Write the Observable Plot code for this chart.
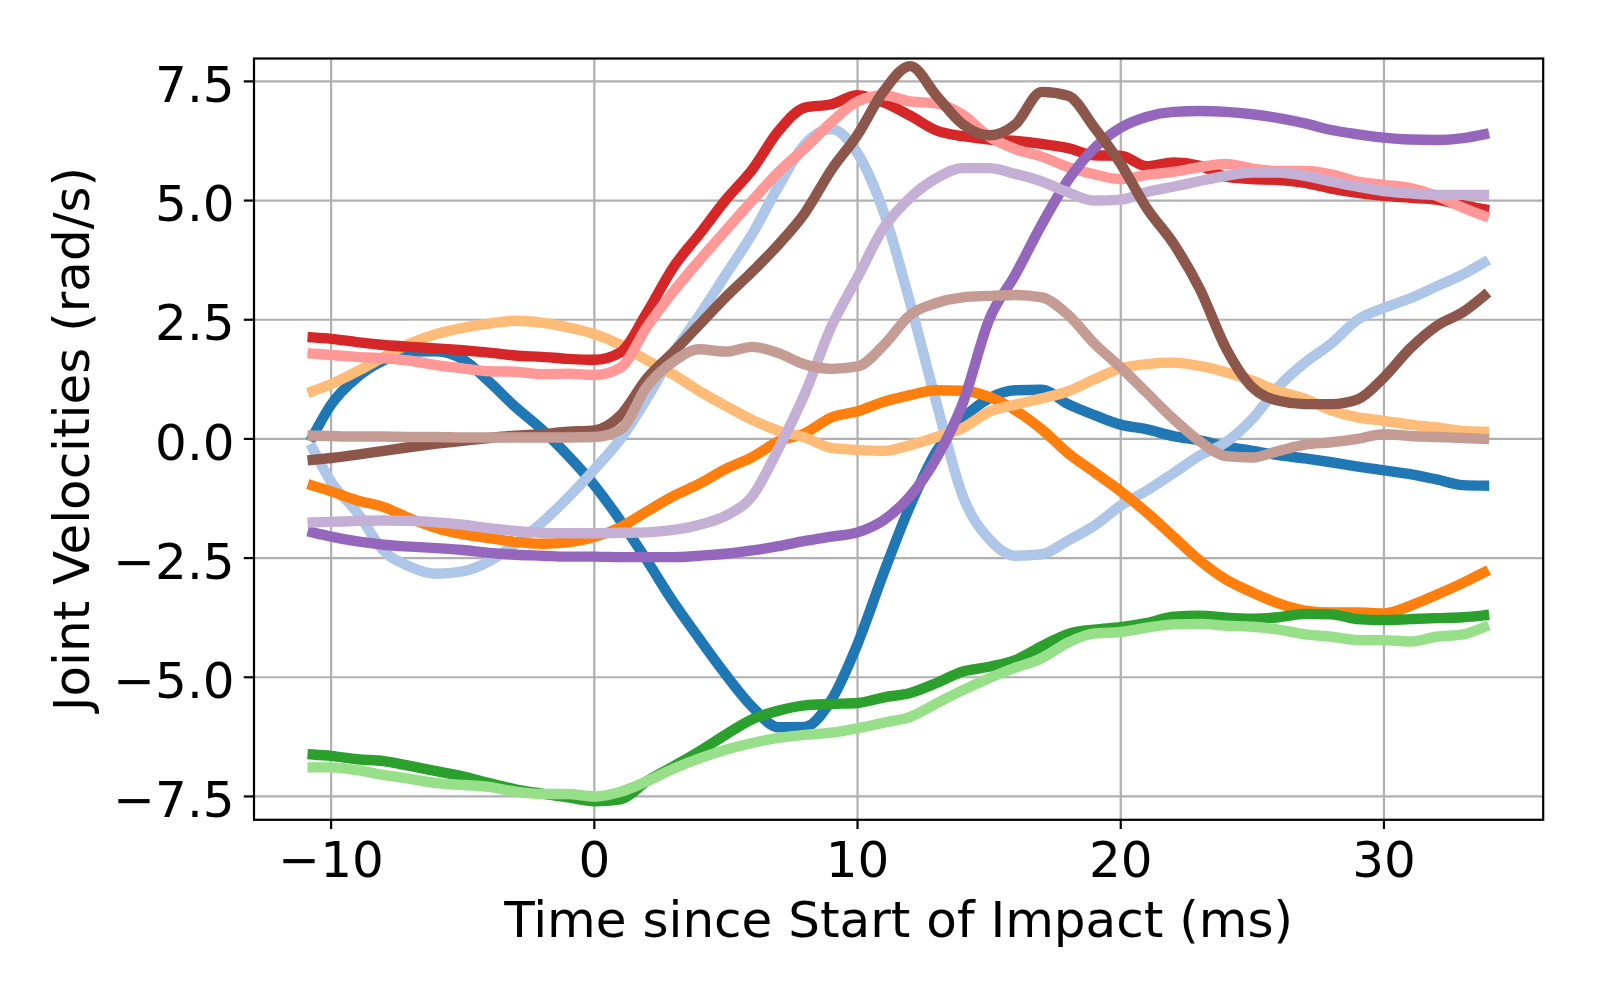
<!DOCTYPE html>
<html>
<head>
<meta charset="utf-8">
<script src="https://cdn.jsdelivr.net/npm/d3@7"></script>
<script src="https://cdn.jsdelivr.net/npm/@observablehq/plot@0.6"></script>
<style>
  html, body { margin: 0; padding: 0; background: #fff; }
  #chart svg { display: block; }
</style>
</head>
<body>
<div id="chart"></div>
<script>
// Time samples (ms since start of impact)
const times = [-10.7, -10, -9, -8, -7, -6, -5, -4, -3, -2, -1, 0, 1, 2, 3, 4, 5, 6, 7, 8, 9, 10,
  11, 12, 13, 14, 15, 16, 17, 18, 19, 20, 21, 22, 23, 24, 25, 26, 27, 28, 29, 30, 31, 32, 33, 33.8];

// Joint velocity series (rad/s), one value per time sample
const blue = [0.05, 0.72, 1.3, 1.65, 1.83, 1.84, 1.67, 1.2, 0.67, 0.2, -0.35, -0.97, -1.72, -2.55, -3.42, -4.2, -4.95, -5.62, -6.05, -6.04, -5.48, -4.3,
  -2.8, -1.4, -0.26, 0.42, 0.85, 1.02, 1.03, 0.73, 0.5, 0.3, 0.2, 0.06, -0.03, -0.16, -0.25, -0.34, -0.41, -0.49, -0.58, -0.66, -0.74, -0.85, -0.97, -0.98];
const lightBlue = [-0.2, -0.9, -1.55, -2.35, -2.68, -2.83, -2.78, -2.57, -2.2, -1.76, -1.23, -0.64, 0.0, 0.85, 1.8, 2.6, 3.45, 4.3, 5.3, 6.18, 6.5, 5.99,
  4.75, 2.85, 0.75, -1.2, -2.1, -2.45, -2.42, -2.13, -1.82, -1.4, -1.08, -0.72, -0.35, -0.07, 0.42, 1.1, 1.6, 2.0, 2.5, 2.75, 2.95, 3.2, 3.45, 3.7];
const orange = [-0.98, -1.1, -1.29, -1.43, -1.67, -1.87, -2.0, -2.08, -2.16, -2.2, -2.17, -2.06, -1.85, -1.52, -1.2, -0.94, -0.63, -0.38, -0.05, 0.12, 0.45, 0.58,
  0.78, 0.92, 1.02, 1.01, 0.88, 0.6, 0.2, -0.3, -0.7, -1.1, -1.55, -2.05, -2.55, -2.95, -3.22, -3.45, -3.6, -3.64, -3.64, -3.66, -3.5, -3.27, -3.02, -2.8];
const lightOrange = [1.0, 1.15, 1.42, 1.72, 2.0, 2.2, 2.33, 2.42, 2.48, 2.44, 2.34, 2.2, 1.97, 1.65, 1.35, 1.0, 0.69, 0.4, 0.17, 0.03, -0.19, -0.23,
  -0.25, -0.13, 0.04, 0.23, 0.57, 0.72, 0.85, 1.0, 1.25, 1.48, 1.57, 1.6, 1.53, 1.4, 1.22, 1.0, 0.84, 0.6, 0.45, 0.38, 0.3, 0.24, 0.17, 0.15];
const green = [-6.62, -6.65, -6.72, -6.76, -6.86, -6.97, -7.08, -7.22, -7.35, -7.44, -7.52, -7.6, -7.56, -7.18, -6.87, -6.55, -6.2, -5.88, -5.7, -5.59, -5.56, -5.54,
  -5.42, -5.33, -5.12, -4.88, -4.78, -4.64, -4.35, -4.09, -4.0, -3.95, -3.86, -3.73, -3.71, -3.75, -3.77, -3.74, -3.67, -3.68, -3.78, -3.8, -3.78, -3.76, -3.74, -3.7];
const lightGreen = [-6.89, -6.89, -6.95, -7.05, -7.13, -7.22, -7.26, -7.3, -7.4, -7.45, -7.45, -7.5, -7.4, -7.18, -6.92, -6.7, -6.52, -6.38, -6.27, -6.21, -6.16, -6.07,
  -5.95, -5.83, -5.55, -5.27, -5.02, -4.8, -4.6, -4.27, -4.08, -4.05, -3.96, -3.89, -3.88, -3.92, -3.94, -4.0, -4.1, -4.15, -4.22, -4.22, -4.25, -4.15, -4.1, -3.95];
const red = [2.13, 2.1, 2.03, 1.97, 1.93, 1.9, 1.86, 1.81, 1.75, 1.72, 1.68, 1.66, 1.82, 2.65, 3.6, 4.3, 5.02, 5.65, 6.46, 6.95, 7.02, 7.21,
  7.06, 6.78, 6.47, 6.35, 6.28, 6.25, 6.19, 6.1, 5.95, 5.94, 5.72, 5.8, 5.73, 5.5, 5.45, 5.43, 5.37, 5.25, 5.16, 5.1, 5.06, 5.02, 4.9, 4.82];
const lightRed = [1.79, 1.76, 1.72, 1.69, 1.64, 1.55, 1.48, 1.42, 1.41, 1.36, 1.37, 1.34, 1.5, 2.35, 3.09, 3.75, 4.38, 5.0, 5.6, 6.1, 6.64, 7.08,
  7.21, 7.08, 7.04, 6.8, 6.34, 6.08, 5.92, 5.7, 5.55, 5.45, 5.54, 5.6, 5.7, 5.77, 5.67, 5.62, 5.62, 5.55, 5.4, 5.33, 5.26, 5.1, 4.85, 4.68];
const purple = [-1.96, -2.05, -2.15, -2.22, -2.26, -2.29, -2.33, -2.39, -2.43, -2.45, -2.47, -2.47, -2.48, -2.48, -2.48, -2.45, -2.41, -2.34, -2.25, -2.14, -2.05, -1.96,
  -1.7, -1.2, -0.4, 0.75, 2.5, 3.45, 4.5, 5.43, 6.1, 6.53, 6.76, 6.86, 6.88, 6.86, 6.81, 6.73, 6.62, 6.48, 6.39, 6.32, 6.28, 6.27, 6.31, 6.39];
const lightPurple = [-1.75, -1.74, -1.72, -1.71, -1.72, -1.75, -1.8, -1.87, -1.93, -1.97, -1.98, -1.98, -1.97, -1.96, -1.91, -1.8, -1.61, -1.2, -0.2, 0.95, 2.35, 3.39,
  4.43, 5.06, 5.47, 5.68, 5.68, 5.56, 5.4, 5.17, 5.0, 5.02, 5.18, 5.29, 5.41, 5.52, 5.59, 5.59, 5.52, 5.4, 5.29, 5.2, 5.15, 5.12, 5.12, 5.12];
const brown = [-0.44, -0.4, -0.33, -0.25, -0.17, -0.1, -0.04, 0.02, 0.07, 0.1, 0.15, 0.18, 0.5, 1.27, 1.82, 2.4, 2.98, 3.51, 4.08, 4.74, 5.64, 6.38,
  7.3, 7.82, 7.2, 6.6, 6.37, 6.6, 7.28, 7.2, 6.53, 5.77, 4.83, 4.1, 3.15, 1.9, 1.08, 0.8, 0.73, 0.73, 0.83, 1.29, 1.9, 2.37, 2.66, 3.0];
const lightBrown = [0.07, 0.06, 0.05, 0.05, 0.04, 0.04, 0.03, 0.03, 0.03, 0.03, 0.03, 0.04, 0.2, 1.1, 1.62, 1.88, 1.83, 1.93, 1.8, 1.56, 1.47, 1.52,
  1.97, 2.6, 2.85, 2.97, 3.0, 3.02, 2.97, 2.6, 2.0, 1.5, 0.96, 0.42, -0.05, -0.36, -0.39, -0.25, -0.12, -0.07, 0.0, 0.1, 0.06, 0.04, 0.02, 0.0];

const seriesNames = ["blue", "lightBlue", "orange", "lightOrange", "green", "lightGreen",
  "red", "lightRed", "purple", "lightPurple", "brown", "lightBrown"];
const seriesValues = [blue, lightBlue, orange, lightOrange, green, lightGreen,
  red, lightRed, purple, lightPurple, brown, lightBrown];
const seriesColors = ["#1f77b4", "#aec7e8", "#ff7f0e", "#ffbb78", "#2ca02c", "#98df8a",
  "#d62728", "#ff9896", "#9467bd", "#c5b0d5", "#8c564b", "#c49c94"];

const xTicks = [-10, 0, 10, 20, 30];
const yTicks = [-7.5, -5.0, -2.5, 0.0, 2.5, 5.0, 7.5];
const xLabel = "Time since Start of Impact (ms)";
const yLabel = "Joint Velocities (rad/s)";

const rows = seriesNames.flatMap((name, i) =>
  times.map((t, j) => ({series: name, t, v: seriesValues[i][j]})));

const fx = d3.format("d");
const fy = d3.format(".1f");

const chart = Plot.plot({
  width: 1600,
  height: 1000,
  marginLeft: 253.5,
  marginRight: 57.3,
  marginTop: 58,
  marginBottom: 180.7,
  style: {fontFamily: "'DejaVu Sans', sans-serif", fontSize: "50px", background: "#fff", color: "#000"},
  x: {domain: [-12.93, 36.05], label: null},
  y: {domain: [-7.99, 7.98], label: null},
  color: {domain: seriesNames, range: seriesColors},
  marks: [
    Plot.gridX(xTicks, {stroke: "#b0b0b0", strokeOpacity: 1, strokeWidth: 2.2}),
    Plot.gridY(yTicks, {stroke: "#b0b0b0", strokeOpacity: 1, strokeWidth: 2.2}),
    Plot.line(rows, {x: "t", y: "v", z: "series", stroke: "series", strokeWidth: 10.4,
      curve: "monotone-x", strokeLinecap: "square", strokeLinejoin: "round"}),
    Plot.frame({stroke: "#000", strokeWidth: 2.2}),
    Plot.axisX(xTicks, {tickSize: 9.7, tickPadding: 9.7, fill: "none", stroke: "#000", strokeWidth: 2.2, label: null}),
    Plot.axisX(xTicks, {tickSize: 9.7, tickPadding: 9.7, stroke: "none", fill: "#000", fontSize: 50,
      tickFormat: fx, dy: 2.5, label: null}),
    Plot.axisY(yTicks, {tickSize: 9.7, tickPadding: 9.7, fill: "none", stroke: "#000", strokeWidth: 2.2, label: null}),
    Plot.axisY(yTicks, {tickSize: 9.7, tickPadding: 9.7, stroke: "none", fill: "#000", fontSize: 50,
      tickFormat: fy, dy: 4.7, label: null}),
    Plot.text([xLabel], {frameAnchor: "bottom", dy: 100.7, text: d => d, fontSize: 50,
      textAnchor: "middle", lineAnchor: "middle", fill: "#000"}),
    Plot.text([yLabel], {frameAnchor: "left", dx: -181.5, rotate: -90, text: d => d, fontSize: 50,
      textAnchor: "middle", lineAnchor: "middle", fill: "#000"})
  ]
});

document.getElementById("chart").append(chart);
</script>
</body>
</html>
